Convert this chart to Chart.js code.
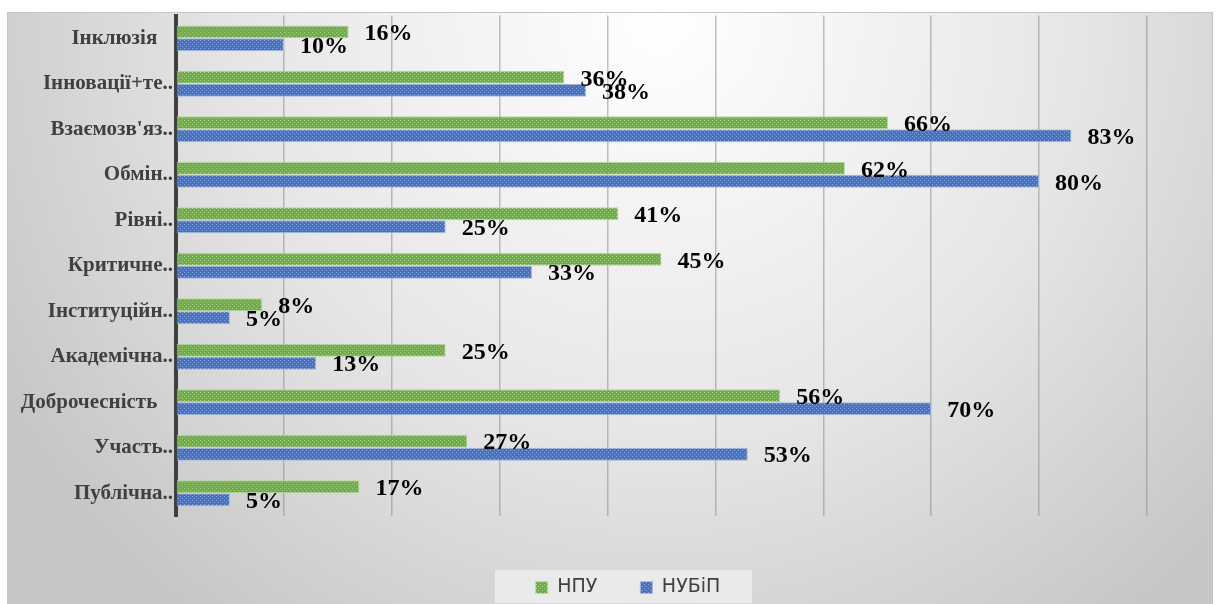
<!DOCTYPE html>
<html>
<head>
<meta charset="utf-8">
<script src="https://cdn.jsdelivr.net/npm/chart.js@4/dist/chart.umd.min.js"></script>
<style>
  html, body { margin: 0; padding: 0; background: #fff; }
  #wrap { width: 1216px; height: 604px; position: relative; }
</style>
</head>
<body>
<div id="wrap"><canvas id="chart" width="1216" height="604"></canvas></div>
<script>
const categories = [
  "Інклюзія   ", "Інновації+те..", "Взаємозв'яз..", "Обмін..", "Рівні..",
  "Критичне..", "Інституційн..", "Академічна..", "Доброчесність   ", "Участь..", "Публічна.."
];
const npuValues = [16, 36, 66, 62, 41, 45, 8, 25, 56, 27, 17];
const nubipValues = [10, 38, 83, 80, 25, 33, 5, 13, 70, 53, 5];
const seriesNames = ["НПУ", "НУБіП"];

function makePattern(base, dot) {
  const c = document.createElement("canvas");
  c.width = 4; c.height = 4;
  const g = c.getContext("2d");
  g.fillStyle = base;
  g.fillRect(0, 0, 4, 4);
  g.fillStyle = dot;
  g.fillRect(0, 0, 1, 1);
  g.fillRect(2, 2, 1, 1);
  return g.createPattern(c, "repeat");
}

const greenFill = makePattern("#70ad47", "#a3cf86");
const blueFill = makePattern("#4472c4", "#8aa6dc");

const backgroundPlugin = {
  id: "bg",
  beforeDraw(chart) {
    const ctx = chart.ctx;
    ctx.save();
    const grad = ctx.createRadialGradient(660, 20, 0, 660, 20, 760);
    grad.addColorStop(0, "#ffffff");
    grad.addColorStop(0.55, "#e6e6e6");
    grad.addColorStop(1, "#c6c6c6");
    ctx.fillStyle = grad;
    ctx.fillRect(7, 12, 1206, 592);
    ctx.strokeStyle = "#c4c4c4";
    ctx.lineWidth = 1;
    ctx.strokeRect(7.5, 12.5, 1205, 600);
    // legend backing box
    ctx.fillStyle = "rgba(236,236,236,0.9)";
    ctx.fillRect(495, 570, 257, 33);
    ctx.restore();
  }
};

// nudge the legend to the right and down, as in the original
const legendShift = {
  id: "legendShift",
  afterLayout(chart) {
    chart.legend.left += 51;
    chart.legend.right += 51;
    chart.legend.top += 3;
    chart.legend.bottom += 3;
  }
};

const valueLabels = {
  id: "valueLabels",
  afterDatasetsDraw(chart) {
    const ctx = chart.ctx;
    ctx.save();
    ctx.font = "bold 24px 'Liberation Serif', 'Times New Roman', serif";
    ctx.fillStyle = "#000";
    ctx.textAlign = "left";
    ctx.textBaseline = "middle";
    chart.data.datasets.forEach((ds, i) => {
      chart.getDatasetMeta(i).data.forEach((bar, j) => {
        ctx.fillText(ds.data[j] + "%", bar.x + 16, bar.y + 2);
      });
    });
    ctx.restore();
  }
};

new Chart(document.getElementById("chart"), {
  type: "bar",
  data: {
    labels: categories,
    datasets: [
      {
        label: seriesNames[0],
        data: npuValues,
        backgroundColor: greenFill,
        borderColor: "#b5d9a0",
        borderWidth: 1,
        categoryPercentage: 0.57,
        barPercentage: 1
      },
      {
        label: seriesNames[1],
        data: nubipValues,
        backgroundColor: blueFill,
        borderColor: "#a4b9e3",
        borderWidth: 1,
        categoryPercentage: 0.57,
        barPercentage: 1
      }
    ]
  },
  options: {
    indexAxis: "y",
    responsive: false,
    animation: false,
    devicePixelRatio: 1,
    layout: { padding: { left: 7, top: 6, right: 69, bottom: 0 } },
    scales: {
      x: {
        min: 0,
        max: 90,
        ticks: { display: false, stepSize: 10 },
        grid: { color: "rgba(140,140,140,0.55)", lineWidth: 1.5, drawTicks: false },
        border: { display: false },
        afterFit(s) { s.height = 16; }
      },
      y: {
        grid: { display: false, drawTicks: false },
        border: { color: "#404040", width: 4 },
        ticks: {
          color: "#404040",
          padding: 3,
          font: { family: "'Liberation Serif', 'Times New Roman', serif", size: 21, weight: "bold" }
        },
        afterFit(s) { s.width = 169; }
      }
    },
    plugins: {
      legend: {
        position: "bottom",
        labels: {
          color: "#404040",
          boxWidth: 12,
          boxHeight: 12,
          padding: 43,
          font: { family: "'DejaVu Sans', sans-serif", size: 19 }
        }
      },
      tooltip: { enabled: false }
    }
  },
  plugins: [backgroundPlugin, legendShift, valueLabels]
});
</script>
</body>
</html>
